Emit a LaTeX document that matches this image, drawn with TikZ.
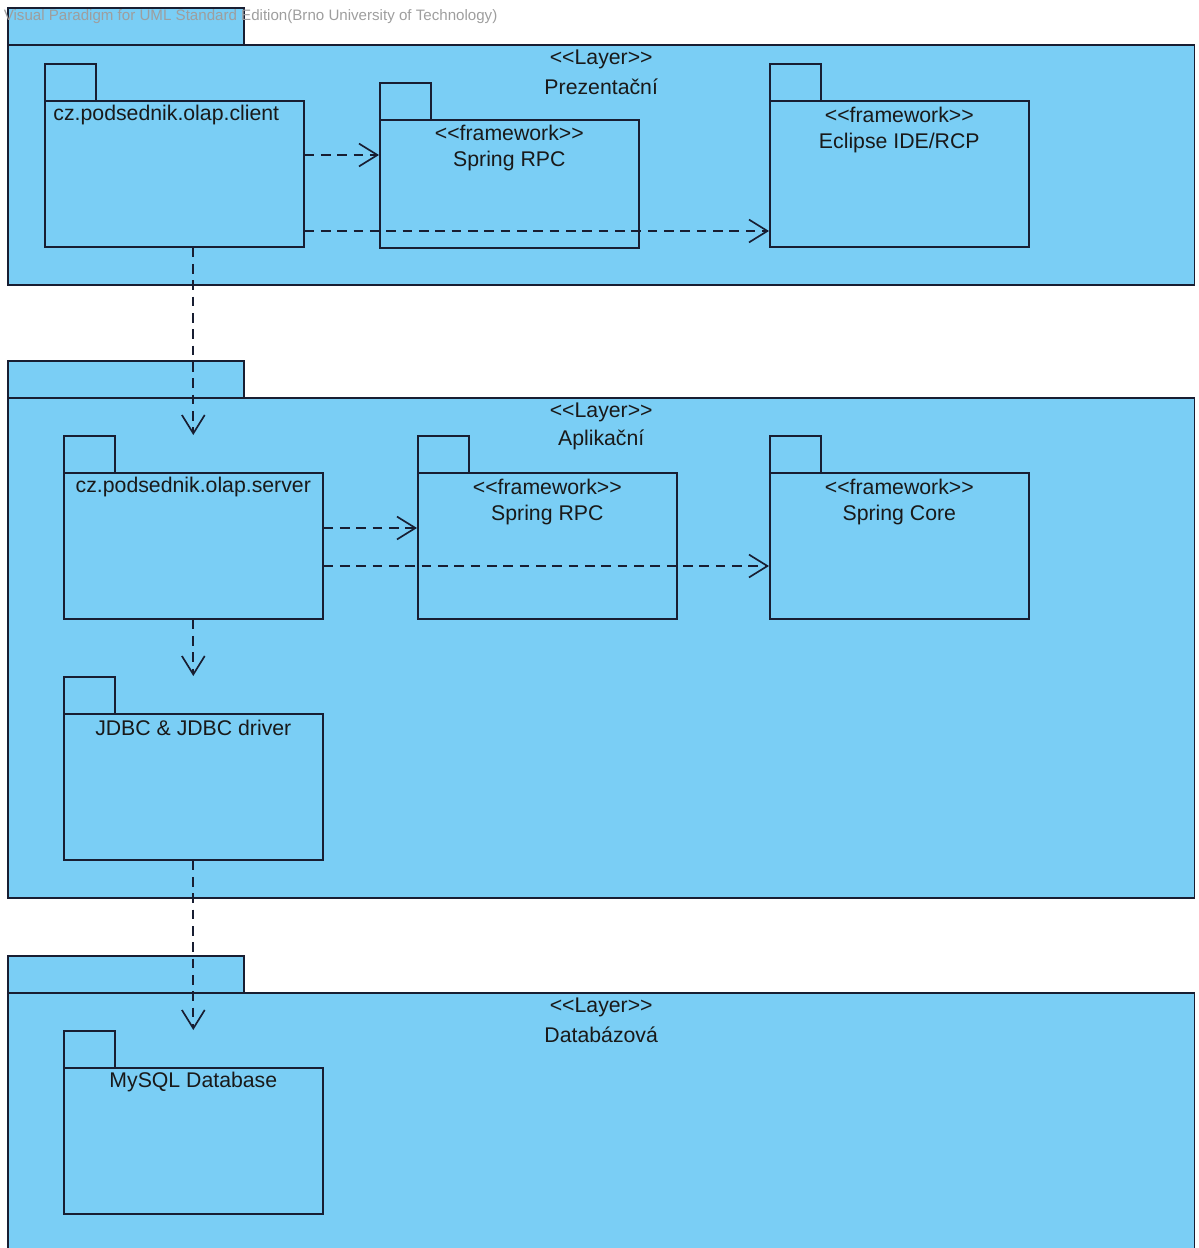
\documentclass[tikz,border=0pt]{standalone}
\usepackage{fontspec}
\setmainfont{Liberation Sans}
\usetikzlibrary{calc,arrows.meta}
\definecolor{pkgblue}{RGB}{122,206,245}
\definecolor{pkgline}{RGB}{24,30,50}
\newcommand{\stereo}[1]{<\kern0pt<#1>\kern0pt>}

\begin{document}
\begin{tikzpicture}[x=0.02cm, y=-0.02cm, line width=0.95pt,
  pkg/.style={draw=pkgline, fill=pkgblue, inner sep=0pt, anchor=north west},
  laytab/.style={pkg, minimum width=4.72cm, minimum height=0.74cm},
  tab/.style={pkg, minimum width=1.02cm, minimum height=0.74cm},
  box/.style={pkg, minimum width=5.18cm, minimum height=2.92cm},
  txt/.style={font=\fontsize{12.1}{14}\selectfont, inner sep=0pt, text=black!90},
  dep/.style={draw=pkgline, dash pattern=on 5.5pt off 3.8pt,
    -{Straight Barb[length=10.5pt, width=13pt]}}]
  \useasboundingbox (0,0) rectangle (1199,1248);
  \clip (0,0) rectangle (1199,1248);

  % layer Prezentacni
  \node[laytab] (layAT) at (7,7) {};
  \node[pkg, minimum width=23.74cm, minimum height=4.8cm] (layA) at (7,44) {};
  \node[txt] (layAs) at ($(layA.north)+(0,15)$) {\stereo{Layer}};
  \node[txt] (layAn) at ($(layA.north)+(0,43)$) {Prezentační};

  % layer Aplikacni
  \node[laytab] (layBT) at (7,360) {};
  \node[pkg, minimum width=23.74cm, minimum height=10cm] (layB) at (7,397) {};
  \node[txt] (layBs) at ($(layB.north)+(0,15)$) {\stereo{Layer}};
  \node[txt] (layBn) at ($(layB.north)+(0,43)$) {Aplikační};

  % layer Databazova
  \node[laytab] (layCT) at (7,955) {};
  \node[pkg, minimum width=23.74cm, minimum height=5.6cm] (layC) at (7,992) {};
  \node[txt] (layCs) at ($(layC.north)+(0,15)$) {\stereo{Layer}};
  \node[txt] (layCn) at ($(layC.north)+(0,43)$) {Databázová};

  % packages
  \node[tab] (cliT) at (44,63) {};
  \node[box] (cli) at (44,100) {};
  \node[txt] (clin) at ($(cli.north)+(-8,15)$) {cz.podsednik.olap.client};

  \node[tab] (rpcAT) at (379,82) {};
  \node[box, minimum height=2.56cm] (rpcA) at (379,119) {};
  \node[txt] (rpcAs) at ($(rpcA.north)+(0,14)$) {\stereo{framework}};
  \node[txt] (rpcAn) at ($(rpcA.north)+(0,42)$) {Spring RPC};

  \node[tab] (eclT) at (769,63) {};
  \node[box] (ecl) at (769,100) {};
  \node[txt] (ecls) at ($(ecl.north)+(0,15)$) {\stereo{framework}};
  \node[txt] (ecln) at ($(ecl.north)+(0,43)$) {Eclipse IDE/RCP};

  \node[tab] (srvT) at (63,435) {};
  \node[box] (srv) at (63,472) {};
  \node[txt] (srvn) at ($(srv.north)+(0,15)$) {cz.podsednik.olap.server};

  \node[tab] (rpcBT) at (417,435) {};
  \node[box] (rpcB) at (417,472) {};
  \node[txt] (rpcBs) at ($(rpcB.north)+(0,15)$) {\stereo{framework}};
  \node[txt] (rpcBn) at ($(rpcB.north)+(0,43)$) {Spring RPC};

  \node[tab] (coreT) at (769,435) {};
  \node[box] (core) at (769,472) {};
  \node[txt] (cores) at ($(core.north)+(0,15)$) {\stereo{framework}};
  \node[txt] (coren) at ($(core.north)+(0,43)$) {Spring Core};

  \node[tab] (jdbcT) at (63,676) {};
  \node[box] (jdbc) at (63,713) {};
  \node[txt] (jdbcn) at ($(jdbc.north)+(0,15)$) {JDBC \& JDBC driver};

  \node[tab] (sqlT) at (63,1030) {};
  \node[box] (sql) at (63,1067) {};
  \node[txt] (sqln) at ($(sql.north)+(0,15)$) {MySQL Database};

  % dependencies
  \draw[dep] ($(cli.north east)+(0,55)$) coordinate (d1) -- (d1 -| rpcA.west);
  \draw[dep] ($(cli.north east)+(0,131)$) coordinate (d2) -- (d2 -| ecl.west);
  \draw[dep] (cli.south -| srv.north) -- (srv.north |- srvT.north);
  \draw[dep] ($(srv.north east)+(0,56)$) coordinate (d3) -- (d3 -| rpcB.west);
  \draw[dep] ($(srv.north east)+(0,94)$) coordinate (d4) -- (d4 -| core.west);
  \draw[dep] (srv.south) -- (jdbc.north |- jdbcT.north);
  \draw[dep] (jdbc.south) -- (sql.north |- sqlT.north);

  \node[font=\fontsize{8.6}{9}\selectfont, text=black!38, inner sep=0pt, anchor=west] (wm)
    at (3,17) {Visual Paradigm for UML Standard Edition(Brno University of Technology)};
\end{tikzpicture}
\end{document}
